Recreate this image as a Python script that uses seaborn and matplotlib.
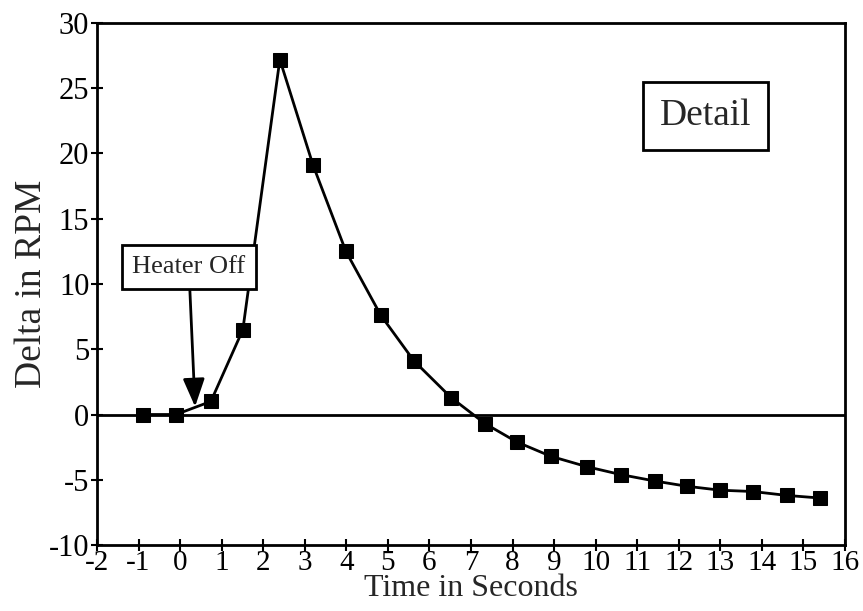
import matplotlib
matplotlib.use("Agg")
import matplotlib.pyplot as plt
import seaborn as sns
import pandas as pd

time_s = [-0.89, -0.10, 0.74, 1.51, 2.40, 3.20, 3.99, 4.83, 5.63, 6.52, 7.34,
          8.10, 8.92, 9.79, 10.60, 11.43, 12.20, 13.00, 13.78, 14.60, 15.40]
delta_rpm = [0.0, 0.0, 1.0, 6.5, 27.2, 19.1, 12.5, 7.6, 4.1, 1.3, -0.7,
             -2.1, -3.2, -4.0, -4.6, -5.1, -5.5, -5.8, -5.9, -6.2, -6.4]
x_ticks = list(range(-2, 17))
y_ticks = list(range(-10, 31, 5))

sns.set_style("ticks")
plt.rcParams['font.family'] = ['Liberation Serif', 'DejaVu Serif']
plt.rcParams['axes.unicode_minus'] = False

df = pd.DataFrame({"t": time_s, "d": delta_rpm})

fig = plt.figure(figsize=(8.63, 6.11), dpi=100)
ax = fig.add_axes([0.1124, 0.108, 0.8667, 0.8544])

ax.axhline(0, color="black", lw=2, zorder=1)
sns.lineplot(data=df, x="t", y="d", ax=ax, color="black", lw=2,
             marker="s", markersize=10, markeredgecolor="black",
             markerfacecolor="black", zorder=3)

ax.set_xlim(-2, 16)
ax.set_ylim(-10, 30)
ax.set_xticks(x_ticks)
ax.set_yticks(y_ticks)
ax.tick_params(direction="inout", length=9, width=1.5, labelsize=22,
               colors="black", pad=1)
ax.tick_params(axis="x", pad=-1, labelsize=21)
for s in ax.spines.values():
    s.set_linewidth(2)
    s.set_color("black")

ax.set_xlabel("Time in Seconds", fontsize=23, labelpad=-1)
ax.set_ylabel("Delta in RPM", fontsize=27, labelpad=0)

ax.text(12.65, 22.9, "Detail", fontsize=27, ha="center", va="center",
        bbox=dict(boxstyle="square,pad=0.45", fc="white", ec="black", lw=2))

ax.annotate("Heater Off", xy=(0.36, 0.6), xytext=(0.21, 11.3),
            fontsize=19, ha="center", va="center",
            bbox=dict(boxstyle="square,pad=0.4", fc="white", ec="black", lw=2),
            arrowprops=dict(arrowstyle="-|>,head_length=0.9,head_width=0.35",
                            color="black", lw=2, shrinkA=0, shrinkB=0),
            zorder=5)

fig.savefig("out.png", dpi=100)
